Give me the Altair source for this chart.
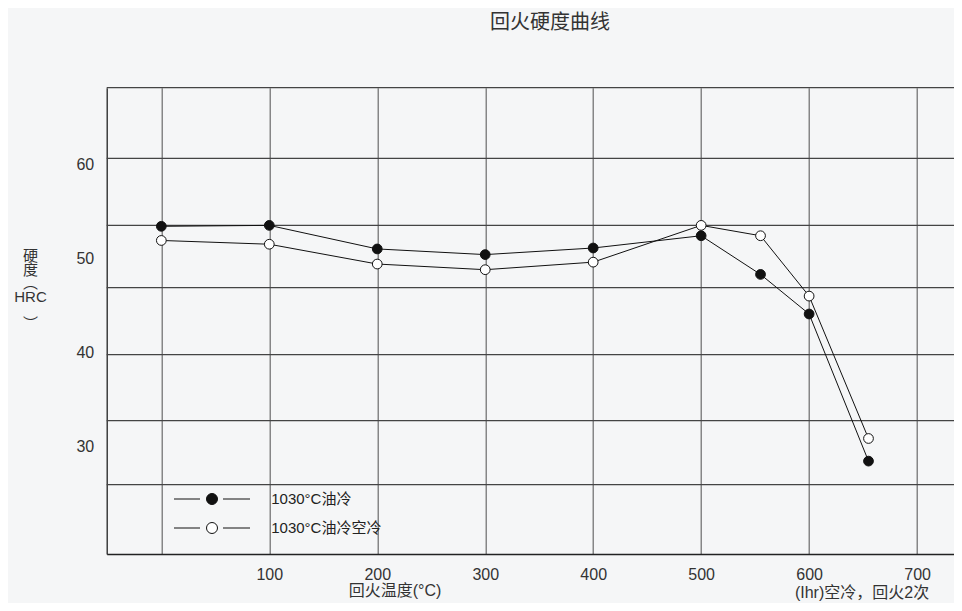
import altair as alt
import pandas as pd

FONT = "Liberation Sans, Noto Sans CJK SC, sans-serif"

# ---- data ----
series_names = ["1030°C油冷", "1030°C油冷空冷"]
temps = [0, 100, 200, 300, 400, 500, 555, 600, 655]
oil_quench = [53.4, 53.5, 51.0, 50.4, 51.1, 52.4, 48.3, 44.1, 28.5]
oil_air = [51.9, 51.5, 49.4, 48.8, 49.6, 53.5, 52.4, 46.0, 30.9]
x_ticks = [0, 100, 200, 300, 400, 500, 600, 700]
y_ticks = [30, 40, 50, 60]
h_grid = [68.1, 60.6, 53.5, 46.9, 39.8, 32.8, 26.0]
x_domain = [-50.6, 734.2]
y_domain = [18.65, 68.1]
note_text = "(Ihr)空冷，回火2次"
note_temp = [649]

rows = []
for name, vals in zip(series_names, [oil_quench, oil_air]):
    for t, v in zip(temps, vals):
        rows.append({"temp": t, "hrc": v, "series": name})
df = pd.DataFrame(rows)
grid_df = pd.DataFrame({"hrc": h_grid})
note_df = pd.DataFrame({"temp": note_temp, "text": [note_text]})

W, H = 847.3, 466.3

x_scale = alt.Scale(domain=x_domain, nice=False, zero=False)
y_scale = alt.Scale(domain=y_domain, nice=False, zero=False)

x_axis = alt.Axis(
    values=x_ticks, grid=True, gridColor="#6a6a6a", gridWidth=1.2,
    domainColor="#222", domainWidth=1.3, ticks=False, labelPadding=12,
    labelFontSize=16, labelFont=FONT, labelColor="#333",
    labelExpr="datum.value == 0 ? '' : datum.label",
    labelFlush=False, labelOverlap=False,
    title="回火温度(°C)", titleX=287.8, titleY=36.5, titleAlign="center",
    titleBaseline="middle", titleFontSize=16, titleFont=FONT,
    titleFontWeight="normal", titleColor="#333",
)
y_axis = alt.Axis(
    values=y_ticks, grid=False, ticks=False, domainColor="#222",
    domainWidth=1.3, labelPadding=13, labelFontSize=16, labelFont=FONT,
    labelColor="#333",
    title=["硬", "度", "︵", "HRC", "\u200b", "︶"], titleAngle=0,
    titleAlign="center", titleBaseline="top", titleX=-76.7, titleY=161.0,
    titleLineHeight=13.5, titleFontSize=15, titleFont=FONT,
    titleFontWeight="normal", titleColor="#333",
)

X = alt.X("temp:Q", scale=x_scale, axis=x_axis)
Y = alt.Y("hrc:Q", scale=y_scale, axis=y_axis)

legend_path = "M-7.6,0H-2.4M2.2,0H7.6M1.1,0A1.1,1.1,0,1,1,-1.1,0A1.1,1.1,0,1,1,1.1,0Z"

rules = alt.Chart(grid_df).mark_rule(color="#444", strokeWidth=1.2).encode(y=Y)

lines = alt.Chart(df).mark_line(color="#111", strokeWidth=1).encode(
    x=X, y=Y, detail="series:N"
)

points = alt.Chart(df).mark_point(
    filled=True, size=95, stroke="#111", strokeWidth=1, opacity=1
).encode(
    x=X, y=Y,
    fill=alt.Fill(
        "series:N",
        scale=alt.Scale(domain=series_names, range=["#111111", "#ffffff"]),
        legend=alt.Legend(
            orient="none", legendX=97.8, legendY=403.8, title=None,
            symbolType=legend_path, symbolSize=100,
            symbolStrokeColor="#111", symbolStrokeWidth=1,
            labelOffset=51.7, labelFontSize=15, labelFont=FONT,
            labelColor="#222", rowPadding=13, padding=0,
        ),
    ),
)

note = alt.Chart(note_df).mark_text(
    font=FONT, fontSize=16, color="#333", align="center", baseline="middle"
).encode(x=X, y=alt.value(H + 38.5), text="text:N")

chart = alt.layer(rules, lines, points, note).properties(
    width=W, height=H,
    title=alt.TitleParams(
        "回火硬度曲线", fontSize=20, font=FONT, fontWeight="normal",
        color="#333", anchor="middle", dx=19.7, offset=54,
    ),
    padding={"left": 98.7, "top": 79.7, "right": 0, "bottom": 49},
    autosize=alt.AutoSizeParams(type="none"),
    background="#f5f6f7",
).configure_view(stroke=None)

chart.save("out.html", embed_options={"renderer": "svg", "actions": False})
